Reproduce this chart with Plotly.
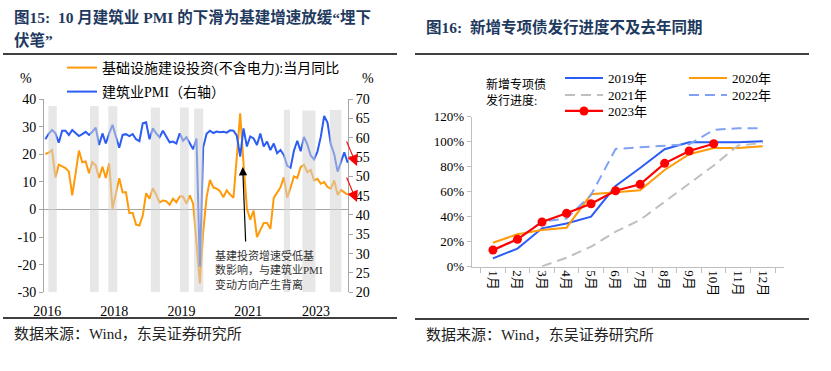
import plotly.graph_objects as go

W, H = 831, 371


def px(x):
    return x / W


def py(y):
    return 1 - y / H


# ---------------- left panel data (monthly, Apr 2016 - Oct 2023) ----------------
pmi = [59.6, 61.0, 62.0, 61.1, 58.7, 61.8, 61.8, 60.7, 62.0, 61.1,
       60.4, 60.9, 61.5, 60.7, 61.5, 62.6, 58.1, 61.1, 58.5, 61.1,
       63.3, 60.3, 57.4, 60.7, 60.9, 60.4, 60.9, 59.6, 59.1, 63.7,
       64.0, 59.6, 62.4, 61.1, 60.1, 61.8, 60.3, 58.8, 59.0, 58.5,
       61.1, 59.2, 60.1, 58.5, 57.0, 59.8, 26.6, 57.5, 61.0, 61.8,
       61.2, 61.6, 61.4, 61.5, 61.3, 61.9, 61.8, 60.5, 55.1, 62.4,
       57.7, 60.3, 59.8, 58.1, 61.1, 57.7, 59.0, 56.8, 58.5, 56.0,
       56.8, 55.5, 52.7, 52.2, 56.6, 59.2, 56.5, 60.2, 58.2, 55.4,
       54.4, 56.4, 60.2, 65.6, 63.9, 58.2, 55.7, 51.2, 53.8, 56.2,
       53.5]
infra = [20.1, 20.6, 21.5, 11.6, 16.2, 15.5, 15.0, 13.7, 5.1, 13.0,
         21.3, 17.1, 17.4, 13.1, 17.1, 15.9, 11.4, 15.5, 11.4, 16.7,
         0.3, 5.8, 11.3, 6.2, 6.2, -1.3, -1.3, -5.5, -5.8, -2.2,
         5.9, 3.9, 7.7, 5.4, 2.6, 3.2, 3.0, 1.7, 3.9, 2.6,
         4.7, 4.7, 2.1, 5.1, 2.1, -12.0, -26.8, -8.0, 4.4, 10.7,
         8.0, 7.5, 6.6, 4.4, 6.9, 5.4, 4.2, 19.0, 34.8, 16.5,
         0.3, -3.7, -0.4, -10.0, -7.6, -4.9, -4.9, -7.0, 4.2, 6.2,
         8.0, 11.6, 4.3, 7.9, 12.0, 11.4, 15.3, 16.2, 13.5, 14.3,
         10.5, 11.1, 9.3, 9.9, 8.1, 7.5, 10.5, 5.3, 7.1, 6.2,
         5.3]
month_idx = list(range(len(pmi)))
year_labels = ["2016", "2018", "2019", "2021", "2023"]
left_y_ticks = [-30, -20, -10, 0, 10, 20, 30, 40]
right_y_ticks = [20, 25, 30, 35, 40, 45, 50, 55, 60, 65, 70]

# shaded periods (in month-index units) and their top values (left axis)
shade_start = [0.9, 13.3, 18.75, 31.4, 40.1, 44.3, 71.0, 76.5, 84.7]
shade_end = [3.4, 15.9, 21.4, 34.1, 42.7, 47.0, 72.8, 80.4, 88.1]
shade_top = [37.5, 37.5, 37.4, 36.9, 36.9, 36.6, 36.1, 35.8, 36.0]

# ---------------- right panel data ----------------
months = ["1月", "2月", "3月", "4月", "5月", "6月", "7月", "8月", "9月", "10月", "11月", "12月"]
y2019 = [6.7, 14.5, 30.7, 34.6, 40.0, 64.5, 79.0, 94.0, 99.5, 99.5, 99.5, 100.3]
y2020 = [19.2, 25.9, 29.4, 31.2, 57.9, 59.7, 61.1, 77.4, 90.0, 95.0, 95.0, 96.3]
y2021 = [None, None, 0.3, 7.2, 16.0, 28.0, 37.4, 52.0, 66.7, 81.0, 97.0, 99.0]
y2022 = [13.0, 22.0, 36.0, 38.6, 57.4, 94.2, 95.5, 97.0, 98.0, 109.4, 110.8, 110.8]
y2023 = [13.4, 21.9, 35.8, 42.7, 50.4, 60.8, 65.9, 82.7, 92.6, 98.4, None, None]

SERIF = "Liberation Serif, Noto Sans CJK SC, serif"
TITLE_C = "#1f3a5f"
BLUE = "#2b5cf4"
ORANGE = "#ff9a0a"
RED = "#ff0000"
GREY_D = "#bfbfbf"
LBLUE_D = "#7fa2f5"
AX = "#a6a6a6"

fig = go.Figure()

# left panel lines
fig.add_trace(go.Scatter(x=month_idx, y=infra, mode="lines",
                         name="基础设施建设投资(不含电力):当月同比",
                         line=dict(color=ORANGE, width=2),
                         xaxis="x", yaxis="y", legend="legend"))
fig.add_trace(go.Scatter(x=month_idx, y=pmi, mode="lines",
                         name="建筑业PMI（右轴）",
                         line=dict(color=BLUE, width=2),
                         xaxis="x", yaxis="y2", legend="legend2"))

# right panel lines
fig.add_trace(go.Scatter(x=months, y=y2019, mode="lines", name="2019年",
                         line=dict(color=BLUE, width=2),
                         xaxis="x2", yaxis="y3", legend="legend3"))
fig.add_trace(go.Scatter(x=months, y=y2020, mode="lines", name="2020年",
                         line=dict(color=ORANGE, width=2),
                         xaxis="x2", yaxis="y3", legend="legend4"))
fig.add_trace(go.Scatter(x=months, y=y2021, mode="lines", name="2021年",
                         line=dict(color=GREY_D, width=2, dash="10px,6px"),
                         xaxis="x2", yaxis="y3", legend="legend5"))
fig.add_trace(go.Scatter(x=months, y=y2022, mode="lines", name="2022年",
                         line=dict(color=LBLUE_D, width=2, dash="10px,6px"),
                         xaxis="x2", yaxis="y3", legend="legend6"))
fig.add_trace(go.Scatter(x=months, y=y2023, mode="lines+markers", name="2023年",
                         line=dict(color=RED, width=2.2),
                         marker=dict(color=RED, size=9),
                         xaxis="x2", yaxis="y3", legend="legend7"))

tickfont_l = dict(family=SERIF, size=14, color="#000")
tickfont_r = dict(family=SERIF, size=13, color="#000")


def leg(x, y, size, iw=30):
    return dict(x=px(x), y=py(y), xanchor="left", yanchor="middle",
                bgcolor="rgba(0,0,0,0)", borderwidth=0,
                font=dict(family=SERIF, size=size, color="#000"),
                itemwidth=iw)


fig.update_layout(
    width=W, height=H,
    margin=dict(l=0, r=0, t=0, b=0, autoexpand=False),
    paper_bgcolor="white", plot_bgcolor="rgba(0,0,0,0)",
    showlegend=True,
    xaxis=dict(domain=[px(44), px(348)], range=[-0.4, 90.1], anchor="y",
               showline=False, showgrid=False, zeroline=False, ticks="",
               tickmode="array", tickvals=[0.6, 20.5, 40.5, 60.4, 80.6],
               ticktext=year_labels, tickfont=tickfont_l, ticklabelstandoff=9),
    yaxis=dict(domain=[py(292.3), py(99)], range=[-30, 40], anchor="x",
               tickmode="array", tickvals=left_y_ticks,
               ticktext=[str(v) for v in left_y_ticks],
               showline=True, linecolor=AX, linewidth=1,
               ticks="outside", ticklen=4, tickcolor=AX,
               showgrid=False, zeroline=True, zerolinecolor=AX, zerolinewidth=1,
               tickfont=tickfont_l),
    yaxis2=dict(overlaying="y", side="right", anchor="x", range=[20, 70],
                tickmode="array", tickvals=right_y_ticks,
                ticktext=[str(v) for v in right_y_ticks],
                showline=True, linecolor=AX, linewidth=1,
                ticks="outside", ticklen=4, tickcolor=AX,
                showgrid=False, zeroline=False, tickfont=tickfont_l),
    xaxis2=dict(domain=[px(471.7), px(784)], anchor="y3", type="category",
                showline=True, linecolor=GREY_D, linewidth=1,
                ticks="outside", tickson="boundaries", ticklen=5, tickcolor=GREY_D,
                tickangle=90, showgrid=False, zeroline=False, tickfont=tickfont_r),
    yaxis3=dict(domain=[py(266.7), py(116.7)], anchor="x2", range=[0, 120],
                dtick=20, ticksuffix="%", showline=True, linecolor=GREY_D,
                linewidth=1, ticks="outside", ticklen=4, tickcolor=GREY_D,
                showgrid=False, zeroline=False, tickfont=tickfont_r),
    legend=leg(62, 68, 14),
    legend2=leg(62, 92, 14),
    legend3=leg(560, 78, 13, 38),
    legend4=leg(684, 78, 13, 38),
    legend5=leg(560, 95, 13, 38),
    legend6=leg(684, 95, 13, 38),
    legend7=leg(560, 111, 13, 38),
)

shapes = []
# black rules
for x0, x1, y in [(3, 397, 54), (3, 397, 318), (415, 809, 54), (415, 809, 319)]:
    shapes.append(dict(type="line", xref="paper", yref="paper",
                       x0=px(x0), x1=px(x1), y0=py(y), y1=py(y),
                       line=dict(color="#000", width=1.5)))
# shading bars over the left panel lines
for s, e, t in zip(shade_start, shade_end, shade_top):
    shapes.append(dict(type="rect", xref="x", yref="y", x0=s, x1=e, y0=-30, y1=t,
                       fillcolor="#d4d4d4", opacity=0.55, line=dict(width=0),
                       layer="above"))
fig.update_layout(shapes=shapes)

ann = []
title_font = dict(family=SERIF, size=15.5, color=TITLE_C)
ann.append(dict(text="<b>图15:  10 月建筑业 PMI 的下滑为基建增速放缓“埋下</b>",
                x=px(12), y=py(17), xref="paper", yref="paper",
                xanchor="left", yanchor="middle", showarrow=False, font=title_font))
ann.append(dict(text="<b>伏笔”</b>", x=px(12), y=py(40), xref="paper", yref="paper",
                xanchor="left", yanchor="middle", showarrow=False, font=title_font))
ann.append(dict(text="<b>图16:  新增专项债发行进度不及去年同期</b>",
                x=px(424), y=py(27), xref="paper", yref="paper",
                xanchor="left", yanchor="middle", showarrow=False, font=title_font))
src_font = dict(family=SERIF, size=15, color="#222")
for x, y in [(12, 334), (424, 335)]:
    ann.append(dict(text="数据来源：Wind，东吴证券研究所", x=px(x), y=py(y),
                    xref="paper", yref="paper", xanchor="left", yanchor="middle",
                    showarrow=False, font=src_font))
for x, y in [(26, 78), (368, 78)]:
    ann.append(dict(text="%", x=px(x), y=py(y), xref="paper", yref="paper",
                    xanchor="center", yanchor="middle", showarrow=False,
                    font=dict(family=SERIF, size=14, color="#000")))
ann.append(dict(text="基建投资增速受低基<br>数影响，与建筑业PMI<br>变动方向产生背离",
                x=px(213), y=py(270), xref="paper", yref="paper",
                xanchor="left", yanchor="middle", align="left", showarrow=False,
                font=dict(family=SERIF, size=11, color="#333")))
# black arrow
ann.append(dict(text="", x=px(242.7), y=py(167), xref="paper", yref="paper",
                ax=3, ay=76, axref="pixel", ayref="pixel", showarrow=True,
                arrowhead=2, arrowsize=1.4, arrowwidth=1.2, arrowcolor="#000"))
# red arrows
for tx, ty in [(357, 166), (357, 202)]:
    ann.append(dict(text="", x=px(tx), y=py(ty), xref="paper", yref="paper",
                    ax=-11, ay=-26, axref="pixel", ayref="pixel", showarrow=True,
                    arrowhead=2, arrowsize=2.0, arrowwidth=1.1, arrowcolor=RED))
ann.append(dict(text="新增专项债<br>发行进度:", x=px(484), y=py(92),
                xref="paper", yref="paper", xanchor="left", yanchor="middle",
                align="left", showarrow=False,
                font=dict(family=SERIF, size=12, color="#000")))
fig.update_layout(annotations=ann)

fig.write_html("out.html", config={"displayModeBar": False},
               post_script="document.body.style.margin='0px';document.body.style.padding='0px';")
